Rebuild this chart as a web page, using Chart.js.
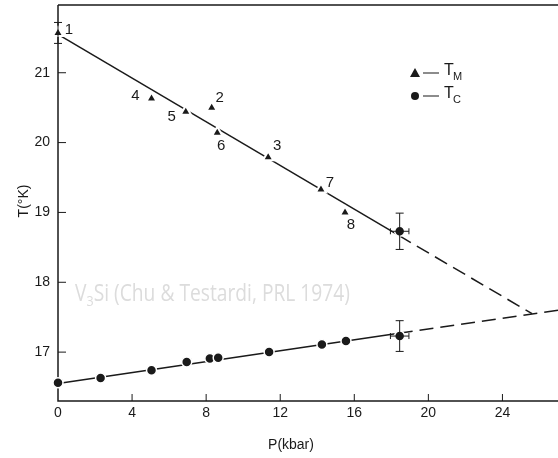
<!DOCTYPE html>
<html>
<head>
<meta charset="utf-8">
<script src="https://cdn.jsdelivr.net/npm/chart.js@4.4.0/dist/chart.umd.min.js"></script>
<style>
  html, body { margin: 0; padding: 0; background: #fff; overflow: hidden; }
  #wrap { position: relative; width: 558px; height: 458px; }
  canvas { display: block; }
</style>
</head>
<body>
<div id="wrap"><canvas id="pt"></canvas></div>
<script>
// T_M points, labelled with run number
const tmP = [0, 5.05, 6.9, 8.3, 8.6, 11.35, 14.2, 15.5];
const tmT = [21.57, 20.63, 20.44, 20.5, 20.14, 19.79, 19.33, 19.0];
const tmRun = ['1', '4', '5', '2', '6', '3', '7', '8'];
const tm1Err = 0.15;

// T_C points
const tcP = [0, 2.3, 5.05, 6.95, 8.2, 8.65, 11.4, 14.25, 15.55];
const tcT = [16.56, 16.63, 16.74, 16.86, 16.91, 16.92, 17.0, 17.11, 17.16];

// highest-pressure run, with error bars
const hiP = [18.45];
const hiTM = [18.73];
const hiTC = [17.23];
const hiPErr = [0.5];
const hiTMErr = [0.26];
const hiTCErr = [0.22];

// straight-line fits: solid over the data, dashed beyond
const tmFitP = [0, 18.4, 25.6];
const tmFitT = [21.55, 18.67, 17.55];
const tcFitP = [0, 18.4, 27];
const tcFitT = [16.55, 17.27, 17.6];

const xTicks = [0, 4, 8, 12, 16, 20, 24];
const yTicks = [17, 18, 19, 20, 21];

const INK = '#1a1a1a';
const pts = (xs, ys) => xs.map((v, i) => ({ x: v, y: ys[i] }));
const dashAfterFirst = ctx => ctx.p0DataIndex >= 1 ? [14, 7] : undefined;

// run numbers sit next to their triangles
const runOffset = {
  '1': [11, -3], '4': [-16, -3], '5': [-14, 5], '2': [8, -10],
  '6': [4, 13], '3': [9, -11], '7': [9, -7], '8': [6, 12]
};

function errBar(ctx, xs, ys, p, t, pe, te) {
  const px = xs.getPixelForValue(p), py = ys.getPixelForValue(t);
  const y0 = ys.getPixelForValue(t - te), y1 = ys.getPixelForValue(t + te);
  const x0 = xs.getPixelForValue(p - pe), x1 = xs.getPixelForValue(p + pe);
  ctx.beginPath();
  ctx.moveTo(px, y0); ctx.lineTo(px, y1);
  ctx.moveTo(px - 4, y0); ctx.lineTo(px + 4, y0);
  ctx.moveTo(px - 4, y1); ctx.lineTo(px + 4, y1);
  if (pe) {
    ctx.moveTo(x0, py); ctx.lineTo(x1, py);
    ctx.moveTo(x0, py - 3); ctx.lineTo(x0, py + 3);
    ctx.moveTo(x1, py - 3); ctx.lineTo(x1, py + 3);
  }
  ctx.stroke();
}

const frame = {
  id: 'frame',
  beforeDatasetsDraw(chart) {
    const { ctx, chartArea: a, scales: { x, y } } = chart;
    ctx.save();
    // caption
    ctx.fillStyle = '#dcdcdc';
    ctx.textBaseline = 'alphabetic';
    ctx.textAlign = 'left';
    const big = '23px "Open Sans"', small = '15px "Open Sans"';
    ctx.font = big;
    const wV = ctx.measureText('V').width;
    const rest = 'Si (Chu & Testardi, PRL 1974)';
    const wR = ctx.measureText(rest).width;
    ctx.font = small;
    const w3 = ctx.measureText('3').width;
    const sx = 275 / (wV + w3 + wR);
    ctx.translate(75, 301);
    ctx.scale(sx, 1);
    ctx.font = big; ctx.fillText('V', 0, 0);
    ctx.font = small; ctx.fillText('3', wV, 5);
    ctx.font = big; ctx.fillText(rest, wV + w3, 0);
    ctx.restore();

    ctx.save();
    ctx.strokeStyle = INK;
    ctx.lineWidth = 1.5;
    ctx.beginPath();
    ctx.moveTo(a.left, a.top); ctx.lineTo(a.right, a.top);
    ctx.moveTo(a.left, a.top); ctx.lineTo(a.left, a.bottom); ctx.lineTo(a.right, a.bottom);
    ctx.stroke();
    // ticks point inward
    ctx.lineWidth = 1;
    ctx.beginPath();
    xTicks.forEach(v => {
      if (v === 0) return;
      const px = x.getPixelForValue(v);
      ctx.moveTo(px, a.bottom); ctx.lineTo(px, a.bottom - 7);
    });
    yTicks.forEach(v => {
      const py = y.getPixelForValue(v);
      ctx.moveTo(a.left, py); ctx.lineTo(a.left + 8, py);
    });
    ctx.stroke();

    // pressure tick labels
    ctx.fillStyle = INK;
    ctx.textAlign = 'center';
    ctx.textBaseline = 'middle';
    ctx.font = '14px "Liberation Sans"';
    xTicks.forEach(v => ctx.fillText(String(v), x.getPixelForValue(v), a.bottom + 12));

    // axis titles
    ctx.fillText('P(kbar)', 291, 445);
    ctx.save();
    ctx.translate(24, 201);
    ctx.rotate(-Math.PI / 2);
    ctx.fillText('T(°K)', 0, 0);
    ctx.restore();
    ctx.restore();
  },
  afterDatasetsDraw(chart) {
    const { ctx, scales: { x, y } } = chart;
    ctx.save();
    ctx.strokeStyle = INK;
    ctx.fillStyle = INK;
    ctx.lineWidth = 1;
    errBar(ctx, x, y, tmP[0], tmT[0], 0, tm1Err);
    hiP.forEach((p, i) => {
      errBar(ctx, x, y, p, hiTM[i], hiPErr[i], hiTMErr[i]);
      errBar(ctx, x, y, p, hiTC[i], hiPErr[i], hiTCErr[i]);
    });

    // run numbers
    ctx.font = '15px "Liberation Sans"';
    ctx.textAlign = 'center';
    ctx.textBaseline = 'middle';
    tmRun.forEach((r, i) => {
      const [dx, dy] = runOffset[r];
      ctx.fillText(r, x.getPixelForValue(tmP[i]) + dx, y.getPixelForValue(tmT[i]) + dy);
    });

    // key
    const kx = 415, ky = [73, 96];
    ctx.beginPath();
    ctx.moveTo(kx, ky[0] - 5); ctx.lineTo(kx + 5, ky[0] + 4); ctx.lineTo(kx - 5, ky[0] + 4);
    ctx.closePath(); ctx.fill();
    ctx.beginPath(); ctx.arc(kx, ky[1], 4, 0, Math.PI * 2); ctx.fill();
    ctx.lineWidth = 1.2;
    ctx.beginPath();
    ky.forEach(k => { ctx.moveTo(kx + 8, k); ctx.lineTo(kx + 24, k); });
    ctx.stroke();
    ctx.textAlign = 'left';
    ctx.font = '16px "Liberation Sans"';
    ctx.fillText('T', kx + 29, ky[0] - 2);
    ctx.fillText('T', kx + 29, ky[1] - 2);
    ctx.font = '11px "Liberation Sans"';
    ctx.fillText('M', kx + 38, ky[0] + 4);
    ctx.fillText('C', kx + 38, ky[1] + 4);
    ctx.restore();
  }
};

new Chart(document.getElementById('pt'), {
  type: 'scatter',
  data: {
    datasets: [
      {
        label: 'T_M fit', type: 'line', data: pts(tmFitP, tmFitT), order: 2,
        borderColor: INK, borderWidth: 1.5, pointRadius: 0, fill: false,
        segment: { borderDash: dashAfterFirst }
      },
      {
        label: 'T_C fit', type: 'line', data: pts(tcFitP, tcFitT), order: 2,
        borderColor: INK, borderWidth: 1.5, pointRadius: 0, fill: false,
        segment: { borderDash: dashAfterFirst }
      },
      {
        label: 'T_M', data: pts(tmP, tmT), order: 1,
        pointStyle: 'triangle', pointRadius: 6,
        backgroundColor: INK, borderColor: '#fff', borderWidth: 2
      },
      {
        label: 'T_C', data: pts(tcP, tcT), order: 1,
        pointStyle: 'circle', pointRadius: 5,
        backgroundColor: INK, borderColor: '#fff', borderWidth: 1.5
      },
      {
        label: 'high P', data: pts(hiP.concat(hiP), hiTM.concat(hiTC)), order: 1,
        pointStyle: 'circle', pointRadius: 5,
        backgroundColor: INK, borderColor: '#fff', borderWidth: 1.5
      }
    ]
  },
  options: {
    animation: false,
    responsive: true,
    maintainAspectRatio: false,
    clip: false,
    layout: { autoPadding: false, padding: { top: 5, right: 0, left: 0, bottom: 0 } },
    plugins: { legend: { display: false }, tooltip: { enabled: false } },
    scales: {
      x: {
        type: 'linear', min: 0, max: 27,
        afterBuildTicks: s => { s.ticks = xTicks.map(v => ({ value: v })); },
        afterFit: s => { s.height = 57; },
        grid: { display: false, drawTicks: false },
        border: { display: false },
        ticks: { display: false }
      },
      y: {
        type: 'linear', min: 16.3, max: 21.97,
        afterBuildTicks: s => { s.ticks = yTicks.map(v => ({ value: v })); },
        afterFit: s => { s.width = 58; s.paddingTop = 0; s.paddingBottom = 0; },
        grid: { display: false, drawTicks: false },
        border: { display: false },
        ticks: { padding: 8, color: INK, font: { family: 'Liberation Sans', size: 14 } }
      }
    }
  },
  plugins: [frame]
});
</script>
</body>
</html>
